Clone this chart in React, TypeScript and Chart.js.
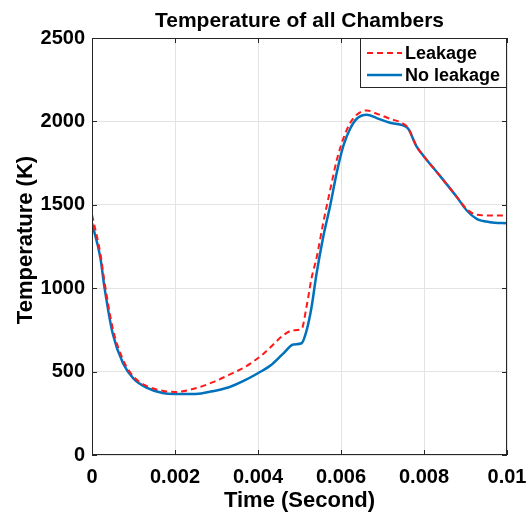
import { useEffect, useRef } from "react";
import { Chart, registerables } from "chart.js";

Chart.register(...registerables);

// Time (s)
const timeSec = [
  0, 0.0002, 0.0003, 0.0005, 0.00075, 0.001, 0.0013, 0.0017, 0.002, 0.0025,
  0.0029, 0.0033, 0.0037, 0.0041, 0.0043, 0.0046, 0.00485, 0.00505, 0.00517,
  0.00529, 0.00541, 0.00557, 0.00574, 0.0059, 0.00606, 0.00622, 0.00638,
  0.00662, 0.00686, 0.00718, 0.0075, 0.00762, 0.00782, 0.00798, 0.00839,
  0.00879, 0.00903, 0.00927, 0.00959, 0.01,
];

// Temperature (K), with leakage
const tempLeakage = [
  1440, 1210, 1040, 760, 570, 470, 416, 385, 378, 400, 435, 480, 530, 600,
  646, 716, 748, 756, 890, 1060, 1180, 1390, 1590, 1770, 1900, 1990, 2040,
  2066, 2046, 2016, 1986, 1960, 1850, 1796, 1672, 1547, 1474, 1440, 1436,
  1436,
];

// Temperature (K), no leakage
const tempNoLeakage = [
  1390, 1185, 1005, 727, 548, 458, 406, 372, 366, 366, 382, 406, 450, 505,
  536, 606, 662, 670, 746, 886, 1086, 1306, 1496, 1696, 1856, 1956, 2016,
  2040, 2020, 1992, 1976, 1956, 1850, 1796, 1672, 1547, 1466, 1416, 1396,
  1390,
];

const xTicks = [0, 0.002, 0.004, 0.006, 0.008, 0.01];
const yTicks = [0, 500, 1000, 1500, 2000, 2500];

const seriesNames = ["Leakage", "No leakage"];
const titleText = "Temperature of all Chambers";
const xTitle = "Time (Second)";
const yTitle = "Temperature (K)";

const FONT = "'Liberation Sans', Arial, Helvetica, sans-serif";

export default function App() {
  const ref = useRef<HTMLCanvasElement>(null);

  useEffect(() => {
    document.body.style.margin = "0";
    const canvas = ref.current;
    if (!canvas) return;

    const framePlugin = {
      id: "frame",
      afterDraw(chart: any) {
        const { ctx, chartArea: a } = chart;
        const xs = chart.scales.x;
        const ys = chart.scales.y;
        ctx.save();
        ctx.strokeStyle = "#262626";
        ctx.lineWidth = 1;
        // inward tick marks
        ctx.beginPath();
        xTicks.forEach((v) => {
          const px = Math.round(xs.getPixelForValue(v)) + 0.5;
          ctx.moveTo(px, a.bottom);
          ctx.lineTo(px, a.bottom - 5);
          ctx.moveTo(px, a.top);
          ctx.lineTo(px, a.top + 5);
        });
        yTicks.forEach((v) => {
          const py = Math.round(ys.getPixelForValue(v)) + 0.5;
          ctx.moveTo(a.left, py);
          ctx.lineTo(a.left + 5, py);
          ctx.moveTo(a.right, py);
          ctx.lineTo(a.right - 5, py);
        });
        ctx.stroke();
        // frame
        ctx.strokeRect(
          Math.round(a.left) + 0.5,
          Math.round(a.top) + 0.5,
          Math.round(a.right - a.left) - 1,
          Math.round(a.bottom - a.top) - 1
        );

        // legend box
        const lw = 147;
        const lh = 50;
        const lx = Math.round(a.right) - lw;
        const ly = Math.round(a.top);
        ctx.fillStyle = "#ffffff";
        ctx.fillRect(lx, ly, lw, lh);
        ctx.strokeRect(lx + 0.5, ly + 0.5, lw - 1, lh - 1);
        const ds = chart.data.datasets;
        const rows = [ly + 15, ly + 37];
        ds.forEach((d: any, i: number) => {
          ctx.beginPath();
          ctx.strokeStyle = d.borderColor;
          ctx.lineWidth = d.borderWidth;
          ctx.setLineDash(d.borderDash || []);
          ctx.moveTo(lx + 7, rows[i]);
          ctx.lineTo(lx + 42, rows[i]);
          ctx.stroke();
          ctx.setLineDash([]);
          ctx.fillStyle = "#000";
          ctx.font = `bold 18px ${FONT}`;
          ctx.textAlign = "left";
          ctx.textBaseline = "middle";
          ctx.fillText(seriesNames[i], lx + 45, rows[i] + 1);
        });

        // titles
        const cx = (a.left + a.right) / 2;
        ctx.fillStyle = "#000";
        ctx.textAlign = "center";
        ctx.textBaseline = "alphabetic";
        ctx.font = `bold 21px ${FONT}`;
        ctx.fillText(titleText, cx, 27);
        ctx.font = `bold 22px ${FONT}`;
        ctx.fillText(xTitle, cx, 507);
        ctx.save();
        ctx.translate(32, 240);
        ctx.rotate(-Math.PI / 2);
        ctx.fillText(yTitle, 0, 0);
        ctx.restore();
        ctx.restore();
      },
    };

    const chart = new Chart(canvas, {
      type: "line",
      data: {
        datasets: [
          {
            label: seriesNames[0],
            data: timeSec.map((t, i) => ({ x: t, y: tempLeakage[i] })),
            borderColor: "#ff1a1a",
            borderWidth: 2,
            borderDash: [6, 4],
            pointRadius: 0,
            cubicInterpolationMode: "monotone",
            fill: false,
            order: 1,
          },
          {
            label: seriesNames[1],
            data: timeSec.map((t, i) => ({ x: t, y: tempNoLeakage[i] })),
            borderColor: "#0072BD",
            borderWidth: 2.5,
            pointRadius: 0,
            cubicInterpolationMode: "monotone",
            fill: false,
            order: 2,
          },
        ],
      },
      options: {
        animation: false,
        responsive: false,
        maintainAspectRatio: false,
        layout: { padding: { top: 38, right: 21, left: 0, bottom: 0 } },
        plugins: {
          legend: { display: false },
          title: { display: false },
          tooltip: { enabled: false },
        },
        scales: {
          x: {
            type: "linear",
            min: 0,
            max: 0.01,
            afterBuildTicks: (s: any) => {
              s.ticks = xTicks.map((v) => ({ value: v }));
            },
            afterFit: (s: any) => {
              s.height = 60;
              s.paddingLeft = 0;
              s.paddingRight = 0;
            },
            ticks: {
              autoSkip: false,
              maxRotation: 0,
              padding: 10,
              color: "#000",
              font: { family: FONT, size: 20, weight: "bold" },
              callback: (v: any) => String(Number(Number(v).toFixed(4))),
            },
            grid: { color: "#e3e3e3", drawTicks: false },
            border: { display: false },
          },
          y: {
            type: "linear",
            min: 0,
            max: 2500,
            afterBuildTicks: (s: any) => {
              s.ticks = yTicks.map((v) => ({ value: v }));
            },
            afterFit: (s: any) => {
              s.width = 92;
              s.paddingTop = 0;
              s.paddingBottom = 0;
            },
            ticks: {
              autoSkip: false,
              padding: 7,
              color: "#000",
              font: { family: FONT, size: 20, weight: "bold" },
              callback: (v: any) => String(v),
            },
            grid: { color: "#e3e3e3", drawTicks: false },
            border: { display: false },
          },
        },
      },
      plugins: [framePlugin],
    } as any);

    return () => chart.destroy();
  }, []);

  return (
    <div style={{ position: "absolute", left: 0, top: 0, width: 528, height: 515 }}>
      <canvas ref={ref} width={528} height={515} style={{ width: 528, height: 515 }} />
    </div>
  );
}
